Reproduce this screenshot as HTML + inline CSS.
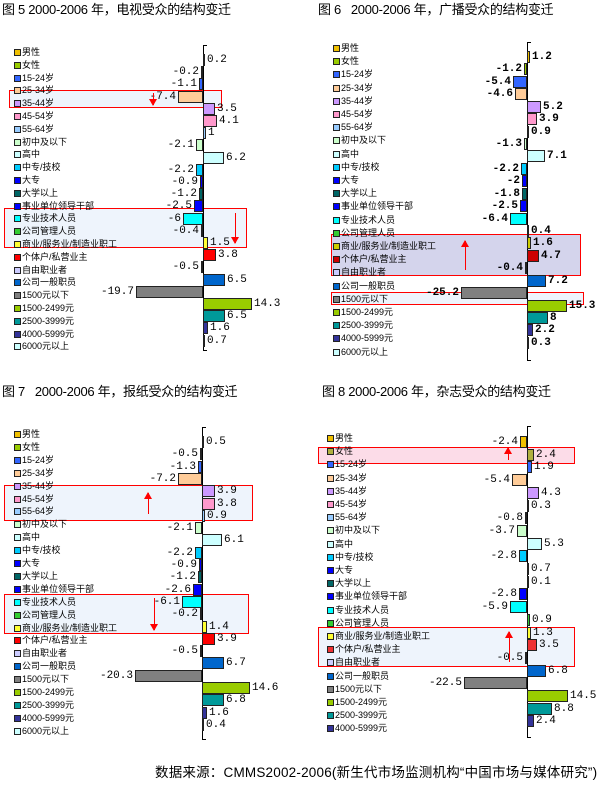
<!DOCTYPE html>
<html><head><meta charset="utf-8">
<style>
body{margin:0;width:611px;height:785px;background:#fff;position:relative;overflow:hidden;font-family:"Liberation Sans","Noto Sans CJK SC",sans-serif;}
.t{position:absolute;font-size:13px;white-space:nowrap;color:#000;line-height:16px;letter-spacing:-0.3px;}
.a{position:absolute;}
.lg{position:absolute;font-size:9px;line-height:10px;white-space:nowrap;color:#000;font-family:"Liberation Sans","WenQuanYi Zen Hei",sans-serif;}
.mk{position:absolute;width:5px;height:5px;border:1px solid #222;}
.bar{position:absolute;border:1px solid #222;box-sizing:border-box;}
.v{position:absolute;font-size:11px;line-height:12px;white-space:nowrap;font-family:"Liberation Mono",monospace;color:#000;}
.box{position:absolute;border:1px solid #f00;box-sizing:border-box;}
.ax{position:absolute;width:1px;background:#000;}
</style></head><body>
<div class="t" style="left:2px;top:2px">图 5 2000-2006 年，电视受众的结构变迁</div>
<div class="t" style="left:318px;top:2px">图 6&nbsp;&nbsp;&nbsp;2000-2006 年，广播受众的结构变迁</div>
<div class="t" style="left:2px;top:384px">图 7&nbsp;&nbsp;&nbsp;2000-2006 年，报纸受众的结构变迁</div>
<div class="t" style="left:322px;top:384px">图 8 2000-2006 年，杂志受众的结构变迁</div>
<div class="t" style="left:155px;top:765px;font-size:13.5px;letter-spacing:0.2px">数据来源：CMMS2002-2006(新生代市场监测机构“中国市场与媒体研究”)</div>
<div id="root"></div>
<script>
var labels=["男性","女性","15-24岁","25-34岁","35-44岁","45-54岁","55-64岁","初中及以下","高中","中专/技校","大专","大学以上","事业单位领导干部","专业技术人员","公司管理人员","商业/服务业/制造业职工","个体户/私营业主","自由职业者","公司一般职员","1500元以下","1500-2499元","2500-3999元","4000-5999元","6000元以上"];
var cols=["#f0c000","#99cc00","#3366ff","#ffcc99","#cc99ff","#ff99cc","#99ccff","#ccffcc","#ccffff","#00ccff","#0000ff","#006666","#0000ff","#00ffff","#33cc33","#ffff33","#ff0000","#ccccff","#0066cc","#808080","#99cc00","#009999","#333399","#ccffff"];
var charts=[
{ax:203,sc:3.4,b0:60,bs:12.2,lx:14,l0:52,ls:12.8,a0:45,a1:350,bold:false,
 v:[0.2,-0.2,-1.1,-7.4,3.5,4.1,1,-2.1,6.2,-2.2,-0.9,-1.2,-2.5,-6,-0.4,1.5,3.8,-0.5,6.5,-19.7,14.3,6.5,1.6,0.7],
 boxes:[[9,90,213,18,"#eef4fc"],[4,208,243,40,"#eef4fc"]],arrows:[[153,93,105,1],[235,213,243,1]]},
{ax:527,sc:2.6,b0:57,bs:12.43,lx:333,l0:48,ls:13.2,a0:42,a1:360,bold:true,
 v:[1.2,-1.2,-5.4,-4.6,5.2,3.9,0.9,-1.3,7.1,-2.2,-2,-1.8,-2.5,-6.4,0.4,1.6,4.7,-0.4,7.2,-25.2,15.3,8,2.2,0.3],
 boxes:[[331,234,250,42,"#d4d4ec"],[331,292,253,13,"#eef4fc"]],arrows:[[465,270,241,0]],
 cc:{15:"#cccc00",16:"#cc0000"}},
{ax:202,sc:3.3,b0:442,bs:12.3,lx:14,l0:434,ls:12.9,a0:427,a1:739,bold:false,
 v:[0.5,-0.5,-1.3,-7.2,3.9,3.8,0.9,-2.1,6.1,-2.2,-0.9,-1.2,-2.6,-6.1,-0.2,1.4,3.9,-0.5,6.7,-20.3,14.6,6.8,1.6,0.4],
 boxes:[[4,485,249,36,"#eef4fc"],[4,594,245,40,"#eef4fc"]],arrows:[[148,514,493,0],[154,598,630,1]]},
{ax:527,sc:2.8,b0:442,bs:12.7,lx:327,l0:438,ls:13.2,a0:426,a1:737,bold:false,
 v:[-2.4,2.4,1.9,-5.4,4.3,0.3,-0.8,-3.7,5.3,-2.8,0.7,0.1,-2.8,-5.9,0.9,1.3,3.5,-0.5,6.8,-22.5,14.5,8.8,2.4],
 boxes:[[318,447,257,17,"#fcdce8"],[318,627,257,40,"#eef4fc"]],arrows:[[508,460,448,0],[509,662,632,0]],
 cc:{1:"#b0b040",16:"#ee3333"}}
];
var h="";
charts.forEach(function(c){
 c.boxes.forEach(function(b){h+='<div class="box" style="left:'+b[0]+'px;top:'+b[1]+'px;width:'+b[2]+'px;height:'+b[3]+'px;background:'+b[4]+'"></div>';});
 h+='<div class="ax" style="left:'+c.ax+'px;top:'+c.a0+'px;height:'+(c.a1-c.a0)+'px"></div>';
 h+='<div class="a" style="left:'+c.ax+'px;top:'+c.a0+'px;width:4px;height:1px;background:#000"></div>';
 h+='<div class="a" style="left:'+c.ax+'px;top:'+c.a1+'px;width:4px;height:1px;background:#000"></div>';
 c.v.forEach(function(v,i){
  var col=(c.cc&&c.cc[i])||cols[i];
  var ly=c.l0+i*c.ls;
  h+='<div class="mk" style="left:'+c.lx+'px;top:'+(ly-3)+'px;background:'+col+'"></div>';
  h+='<div class="lg" style="left:'+(c.lx+8)+'px;top:'+(ly-5)+'px">'+labels[i]+'</div>';
  var cy=c.b0+i*c.bs, w=Math.max(2,Math.round(Math.abs(v)*c.sc));
  var x=v>=0?c.ax:c.ax-w;
  h+='<div class="bar" style="left:'+x+'px;top:'+Math.round(cy-6)+'px;width:'+w+'px;height:12px;background:'+col+'"></div>';
  var fw=c.bold?'font-weight:bold;':'';
  if(v>=0) h+='<div class="v" style="'+fw+'left:'+(c.ax+w+2)+'px;top:'+Math.round(cy-6)+'px">'+v+'</div>';
  else h+='<div class="v" style="'+fw+'right:'+(611-(c.ax-w-2))+'px;top:'+Math.round(cy-6)+'px">'+v+'</div>';
 });
 c.arrows.forEach(function(a){
  var x=a[0],y1=a[1],y2=a[2],down=a[3];
  var top=Math.min(y1,y2),len=Math.abs(y2-y1);
  h+='<div class="a" style="left:'+x+'px;top:'+top+'px;width:1px;height:'+len+'px;background:#f00"></div>';
  if(down) h+='<div class="a" style="left:'+(x-4)+'px;top:'+(y2-6)+'px;width:0;height:0;border-left:4.5px solid transparent;border-right:4.5px solid transparent;border-top:7px solid #f00"></div>';
  else h+='<div class="a" style="left:'+(x-4)+'px;top:'+(y2-1)+'px;width:0;height:0;border-left:4.5px solid transparent;border-right:4.5px solid transparent;border-bottom:7px solid #f00"></div>';
 });
});
document.getElementById("root").innerHTML=h;
</script>
</body></html>
